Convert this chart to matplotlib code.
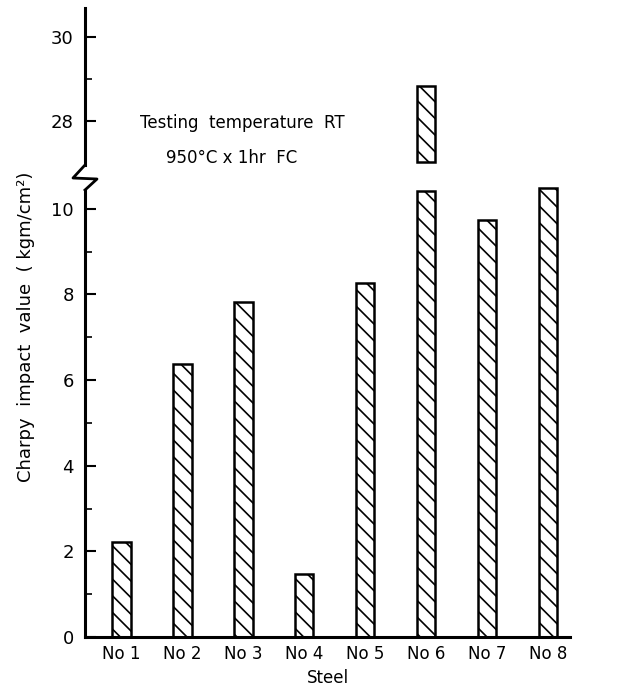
import numpy as np
import matplotlib
matplotlib.use("Agg")
import matplotlib.pyplot as plt
from matplotlib.lines import Line2D

steels = ["No 1", "No 2", "No 3", "No 4", "No 5", "No 6", "No 7", "No 8"]
charpy = [2.22, 6.37, 7.82, 1.48, 8.27, 28.83, 9.74, 10.49]

# No 6 is broken across the axis gap
break_low = 10.42
break_high = 27.02

plt.rcParams['font.family'] = 'DejaVu Sans'
plt.rcParams['hatch.linewidth'] = 1.2

W, H = 629, 693
fig = plt.figure(figsize=(W / 100, H / 100), dpi=100)

def px(x0, y0, x1, y1):
    return [x0 / W, 1 - y1 / H, (x1 - x0) / W, (y1 - y0) / H]

ax_lo = fig.add_axes(px(85, 190, 570, 637))
ax_hi = fig.add_axes(px(85, 8, 570, 165))

x = np.arange(len(steels))
lo_vals = [break_low if v > break_high else v for v in charpy]
ax_lo.bar(x, lo_vals, width=0.3, facecolor='white', edgecolor='black',
          linewidth=1.8, hatch='\\\\', clip_on=False)
big = [i for i, v in enumerate(charpy) if v > break_high]
ax_hi.bar(x[big], [charpy[i] - break_high for i in big], bottom=break_high,
          width=0.3, facecolor='white', edgecolor='black', linewidth=1.8,
          hatch='\\\\', clip_on=False)

for ax in (ax_lo, ax_hi):
    ax.set_xlim(-0.6, 7.36)
    ax.spines['top'].set_visible(False)
    ax.spines['right'].set_visible(False)
    ax.spines['left'].set_linewidth(2.2)
    ax.tick_params(axis='y', which='major', direction='in', length=8, width=1.5,
                   labelsize=13, pad=8)
    ax.tick_params(axis='y', which='minor', direction='in', length=5, width=1.2)

ax_lo.set_ylim(0, 10.44)
ax_lo.set_yticks([0, 2, 4, 6, 8, 10])
ax_lo.set_yticks([1, 3, 5, 7, 9], minor=True)
ax_lo.spines['bottom'].set_linewidth(2.2)
ax_lo.set_xticks(x)
ax_lo.set_xticklabels(steels, fontsize=12)
ax_lo.tick_params(axis='x', length=0, pad=6)
ax_lo.set_xlabel("Steel", fontsize=12, labelpad=4)
ax_lo.set_ylabel("Charpy  impact  value  ( kgm/cm\u00b2)", fontsize=13)
ax_lo.yaxis.set_label_coords(-0.103, 0.693)

ax_hi.set_ylim(26.95, 30.69)
ax_hi.set_yticks([28, 30])
ax_hi.set_yticks([29], minor=True)
ax_hi.spines['bottom'].set_visible(False)
ax_hi.set_xticks([])
ax_hi.patch.set_alpha(0)

# zigzag break mark on the y axis
zx = np.array([85, 73, 97, 85]) / W
zy = 1 - np.array([165, 178, 179, 190]) / H
fig.add_artist(Line2D(zx, zy, color='black', linewidth=2.0, transform=fig.transFigure))

fig.text(242 / W, 1 - 123 / H, "Testing  temperature  RT", fontsize=12,
         ha='center', va='center')
fig.text(232 / W, 1 - 158 / H, "950\u00b0C x 1hr  FC", fontsize=12,
         ha='center', va='center')

fig.savefig("out.png", dpi=100)
